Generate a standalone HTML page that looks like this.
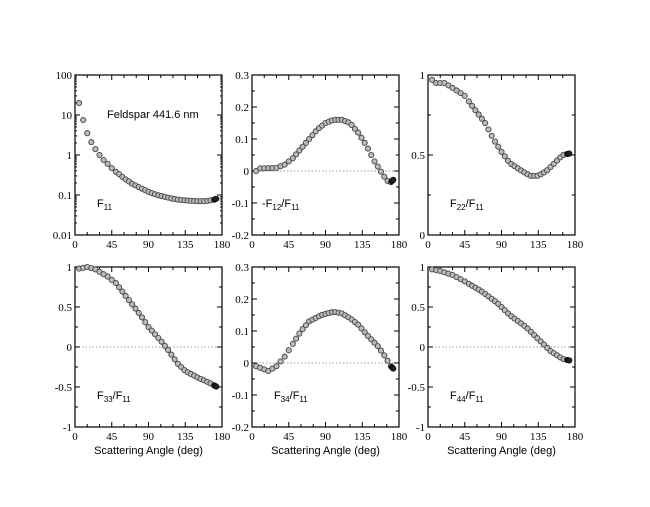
<!DOCTYPE html>
<html><head><meta charset="utf-8"><style>
body{margin:0;background:#fff;width:650px;height:502px;overflow:hidden}
svg text{font-family:"Liberation Serif",serif;font-size:11px;fill:#000}
svg text.s{font-family:"Liberation Sans",sans-serif}
</style></head><body>
<svg id="c" width="650" height="502" xmlns="http://www.w3.org/2000/svg"></svg>
<script>
const NS="http://www.w3.org/2000/svg",svg=document.getElementById('c');
function el(t,a,txt){const e=document.createElementNS(NS,t);for(const k in a)e.setAttribute(k,a[k]);if(txt!==undefined)e.innerHTML=txt;svg.appendChild(e);return e;}
function interp(pts,x){for(let i=0;i<pts.length-1;i++){const[a,b]=[pts[i],pts[i+1]];if(x>=a[0]&&x<=b[0]){const t=(x-a[0])/(b[0]-a[0]);return a[1]+(b[1]-a[1])*t;}}return pts[pts.length-1][1];}
const panels=[
 {x:75,y:75,log:true,ymin:-2,ymax:2,ticks:[[-2,"0.01"],[-1,"0.1"],[0,"1"],[1,"10"],[2,"100"]],zero:false,lab:"F<tspan dy='3' font-size='8'>11</tspan>",
  d:[[5,20],[10,7.5],[15,3.5],[20,2.1],[25,1.4],[30,1.0],[35,0.75],[40,0.6],[45,0.47],[50,0.38],[60,0.26],[70,0.19],[80,0.15],[90,0.12],[100,0.1],[110,0.09],[120,0.08],[130,0.075],[140,0.072],[150,0.07],[160,0.07],[170,0.076],[174,0.082]]},
 {x:252,y:75,ymin:-0.2,ymax:0.3,ticks:[[-0.2,"-0.2"],[-0.1,"-0.1"],[0,"0"],[0.1,"0.1"],[0.2,"0.2"],[0.3,"0.3"]],zero:true,lab:"-F<tspan dy='3' font-size='8'>12</tspan><tspan dy='-3'>/F</tspan><tspan dy='3' font-size='8'>11</tspan>",
  d:[[5,0],[10,0.008],[30,0.01],[40,0.02],[50,0.04],[60,0.07],[70,0.1],[80,0.13],[90,0.15],[100,0.16],[110,0.16],[120,0.15],[130,0.12],[140,0.08],[150,0.03],[160,-0.01],[165,-0.03],[170,-0.035],[174,-0.025]]},
 {x:428,y:75,ymin:0,ymax:1,ticks:[[0,"0"],[0.5,"0.5"],[1,"1"]],zero:false,lab:"F<tspan dy='3' font-size='8'>22</tspan><tspan dy='-3'>/F</tspan><tspan dy='3' font-size='8'>11</tspan>",
  d:[[5,0.97],[10,0.95],[20,0.95],[30,0.92],[45,0.87],[55,0.8],[70,0.7],[80,0.6],[90,0.52],[100,0.45],[115,0.4],[125,0.37],[135,0.37],[145,0.4],[155,0.45],[165,0.5],[174,0.51]]},
 {x:75,y:267,ymin:-1,ymax:1,ticks:[[-1,"-1"],[-0.5,"-0.5"],[0,"0"],[0.5,"0.5"],[1,"1"]],zero:true,xl:true,lab:"F<tspan dy='3' font-size='8'>33</tspan><tspan dy='-3'>/F</tspan><tspan dy='3' font-size='8'>11</tspan>",
  d:[[5,0.98],[15,1.0],[25,0.97],[40,0.88],[50,0.8],[65,0.6],[80,0.4],[90,0.25],[105,0.08],[115,-0.05],[125,-0.2],[135,-0.3],[150,-0.38],[165,-0.45],[174,-0.5]]},
 {x:252,y:267,ymin:-0.2,ymax:0.3,ticks:[[-0.2,"-0.2"],[-0.1,"-0.1"],[0,"0"],[0.1,"0.1"],[0.2,"0.2"],[0.3,"0.3"]],zero:true,xl:true,lab:"F<tspan dy='3' font-size='8'>34</tspan><tspan dy='-3'>/F</tspan><tspan dy='3' font-size='8'>11</tspan>",
  d:[[5,-0.01],[15,-0.02],[20,-0.025],[30,-0.01],[40,0.02],[50,0.06],[60,0.1],[70,0.13],[85,0.15],[100,0.16],[110,0.155],[120,0.14],[130,0.12],[140,0.09],[155,0.05],[163,0.02],[170,-0.01],[174,-0.02]]},
 {x:428,y:267,ymin:-1,ymax:1,ticks:[[-1,"-1"],[-0.5,"-0.5"],[0,"0"],[0.5,"0.5"],[1,"1"]],zero:true,xl:true,lab:"F<tspan dy='3' font-size='8'>44</tspan><tspan dy='-3'>/F</tspan><tspan dy='3' font-size='8'>11</tspan>",
  d:[[5,0.97],[15,0.95],[30,0.9],[45,0.82],[65,0.7],[85,0.55],[100,0.4],[120,0.25],[135,0.1],[150,-0.05],[165,-0.15],[174,-0.17]]}
];
const W=147,H=160;
panels.forEach(p=>{
 const X=v=>p.x+v/180*W;
 const Y=v=>{if(p.log)v=Math.log10(v);return p.y+H-(v-p.ymin)/(p.ymax-p.ymin)*H;};
 const Yr=v=>p.y+H-(v-p.ymin)/(p.ymax-p.ymin)*H;
 if(p.zero)el('line',{x1:p.x,x2:p.x+W,y1:Yr(0),y2:Yr(0),stroke:'#777','stroke-width':0.8,'stroke-dasharray':'1.5,2'});
 el('rect',{x:p.x,y:p.y,width:W,height:H,fill:'none',stroke:'#000','stroke-width':1.2});
 for(let a=0;a<=180;a+=15){const L=a%45==0?5:3;const x=X(a);
  el('line',{x1:x,x2:x,y1:p.y+H,y2:p.y+H-L,stroke:'#000'});el('line',{x1:x,x2:x,y1:p.y,y2:p.y+L,stroke:'#000'});
  if(a%45==0)el('text',{x:x,y:p.y+H+13,'text-anchor':'middle'},a);}
 p.ticks.forEach(([v,s],i)=>{const y=Yr(v);
  el('line',{x1:p.x,x2:p.x+5,y1:y,y2:y,stroke:'#000'});el('line',{x1:p.x+W,x2:p.x+W-5,y1:y,y2:y,stroke:'#000'});
  el('text',{x:p.x-3,y:y+4,'text-anchor':'end'},s);
  if(i<p.ticks.length-1&&!p.log){const m=Yr((v+p.ticks[i+1][0])/2);el('line',{x1:p.x,x2:p.x+3,y1:m,y2:m,stroke:'#000'});el('line',{x1:p.x+W,x2:p.x+W-3,y1:m,y2:m,stroke:'#000'});}
  if(i<p.ticks.length-1&&p.log){for(let k=2;k<10;k++){const m=Yr(v+Math.log10(k));el('line',{x1:p.x,x2:p.x+2,y1:m,y2:m,stroke:'#000'});el('line',{x1:p.x+W,x2:p.x+W-2,y1:m,y2:m,stroke:'#000'});}}
 });
 for(let a=5;a<=170;a+=(a<50?5:4)){el('circle',{cx:X(a),cy:Y(interp(p.d,a)),r:2.6,fill:'#bbb',stroke:'#444','stroke-width':0.9});}
 [171,172,173].forEach(a=>el('circle',{cx:X(a),cy:Y(interp(p.d,a)),r:2.6,fill:'#222',stroke:'#111','stroke-width':0.9}));
 el('text',{class:'s',x:p.x+(p.lab.startsWith('-')?10:22),y:p.y+H-28,'font-size':'12'},p.lab);
 if(p.xl)el('text',{class:'s',x:p.x+W/2,y:p.y+H+27,'text-anchor':'middle'},'Scattering Angle (deg)');
});
el('text',{class:'s',x:107,y:118},'Feldspar 441.6 nm');
</script>
</body></html>
